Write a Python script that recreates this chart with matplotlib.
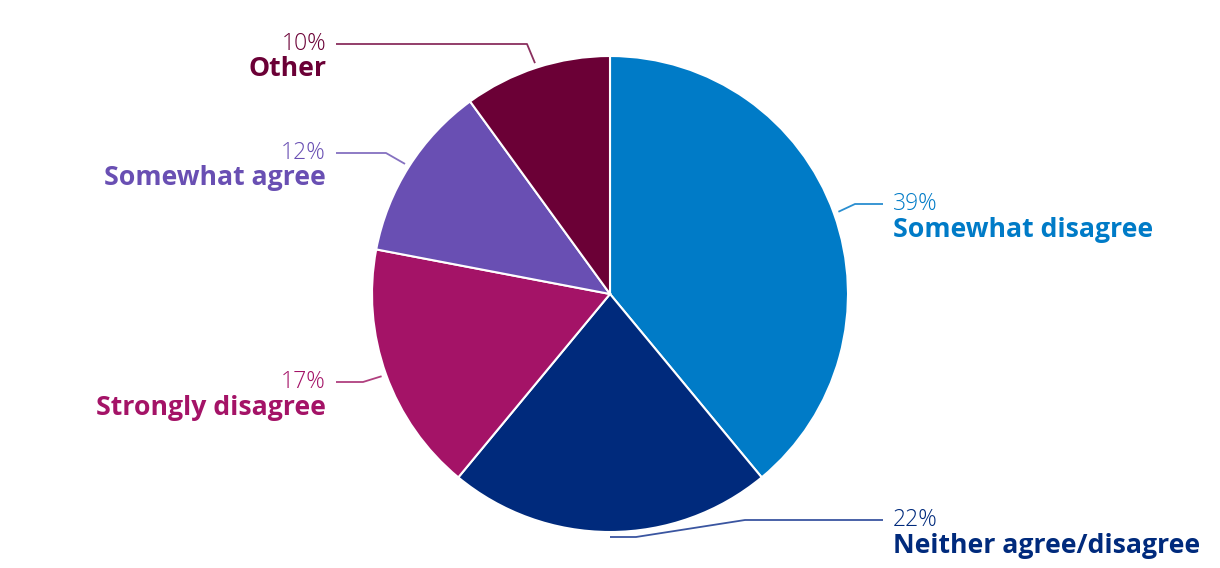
import numpy as np
import matplotlib
matplotlib.use("Agg")
import matplotlib.pyplot as plt

categories = ["Somewhat disagree", "Neither agree/disagree", "Strongly disagree", "Somewhat agree", "Other"]
values = [39, 22, 17, 12, 10]
pct_labels = ["39%", "22%", "17%", "12%", "10%"]

colors = ["#007BC7", "#002A7C", "#A41367", "#694FB3", "#6B0036"]
line_colors = ["#2A8ED0", "#3A55A0", "#B0407F", "#8571C0", "#8A2F5E"]

W, H = 1220, 568
fig = plt.figure(figsize=(W / 100, H / 100), dpi=100)
ax = fig.add_axes([0, 0, 1, 1])

cx, cy, R = 610, H - 294, 238
wedges, _ = ax.pie(values, colors=colors, startangle=90, counterclock=False,
                   center=(cx, cy), radius=R, frame=True,
                   wedgeprops=dict(edgecolor="white", linewidth=1.5))
ax.set_xlim(0, W)
ax.set_ylim(0, H)
ax.set_aspect("equal")
ax.axis("off")

layout = {
    0: dict(elbow=(855, 204), end=(883, 204), tx=893, ha="left", py=204, ly=230),
    1: dict(elbow=[(636, 537), (745, 520)], end=(883, 520), tx=893, ha="left", py=520, ly=546),
    2: dict(elbow=(363, 382), end=(336, 382), tx=326, ha="right", py=382, ly=408),
    3: dict(elbow=(386, 153), end=(336, 153), tx=326, ha="right", py=153, ly=178),
    4: dict(elbow=(527, 44), end=(336, 44), tx=326, ha="right", py=44, ly=69),
}

total = sum(values)
cum = 0
for i, v in enumerate(values):
    mid = (cum + v / 2) / total
    cum += v
    ang = np.deg2rad(90 - 360 * mid)
    r0 = R * 1.02
    sx, sy = cx + r0 * np.cos(ang), cy + r0 * np.sin(ang)
    L = layout[i]
    if i == 1:
        sx, sy = cx, H - 537
    elbows = L["elbow"] if isinstance(L["elbow"], list) else [L["elbow"]]
    xs = [sx] + [e[0] for e in elbows] + [L["end"][0]]
    ys = [sy] + [H - e[1] for e in elbows] + [H - L["end"][1]]
    ax.plot(xs, ys, color=line_colors[i], lw=1.3, solid_capstyle="butt")
    ax.text(L["tx"], H - L["py"], pct_labels[i], ha=L["ha"], va="center",
            fontsize=16.5, fontfamily="Open Sans", fontweight=300, color=colors[i])
    ax.text(L["tx"], H - L["ly"], categories[i], ha=L["ha"], va="center",
            fontsize=19.2, fontfamily="Open Sans", fontweight="bold", color=colors[i])

fig.savefig("out.png", dpi=100)
